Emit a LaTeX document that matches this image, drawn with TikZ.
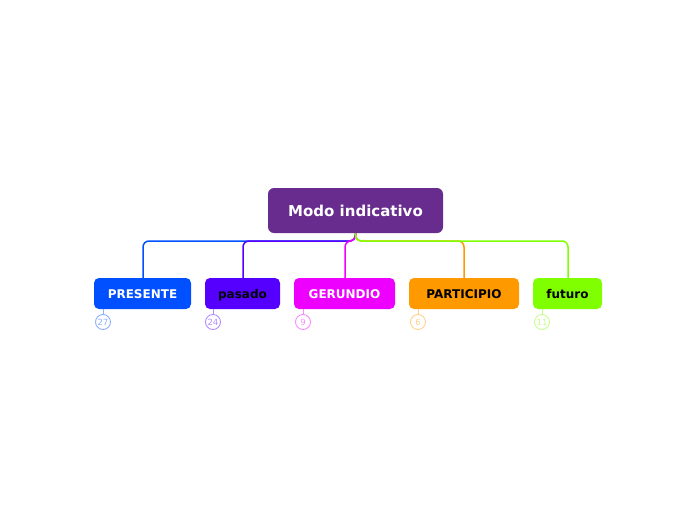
\documentclass[tikz,border=0pt]{standalone}
\usepackage{fontspec}
\setmainfont{DejaVu Sans}
\usetikzlibrary{backgrounds}
\definecolor{cmain}{HTML}{672C8E}
\definecolor{cpres}{HTML}{0050FF}
\definecolor{cpas}{HTML}{5500FF}
\definecolor{cger}{HTML}{EE00FF}
\definecolor{cpart}{HTML}{FF9900}
\definecolor{cfut}{HTML}{80FF00}
\tikzset{
  topic/.style={rounded corners=6pt, inner sep=0pt, text height=11.5pt, text depth=0pt, font=\fontsize{15}{18}\selectfont\bfseries, text=white},
  sub/.style={rounded corners=5pt, inner sep=0pt, minimum height=31pt, text height=10.8pt, text depth=0pt, font=\fontsize{12}{14}\selectfont\bfseries},
  conn/.style={line width=1.5pt, rounded corners=6pt},
  badge/.style={circle, draw, line width=0.9pt, minimum size=15pt, inner sep=0pt, font=\fontsize{8.5}{9}\selectfont},
  stem/.style={line width=0.9pt}
}
\begin{document}
\begin{tikzpicture}[x=1pt,y=-1pt]
\useasboundingbox (0,0) rectangle (697,520);
\node[topic, fill=cmain, minimum width=175pt, minimum height=45pt] (main) at (355.5,210.5) {Modo indicativo};
\node[sub, fill=cpres, text=white, minimum width=97pt] (pres) at (142.5,293.5) {PRESENTE};
\node[sub, fill=cpas, text=black, minimum width=75pt] (pas) at (242.5,293.5) {pasado};
\node[sub, fill=cger, text=white, minimum width=101pt] (ger) at (344.5,293.5) {GERUNDIO};
\node[sub, fill=cpart, text=black, minimum width=110pt] (part) at (464,293.5) {PARTICIPIO};
\node[sub, fill=cfut, text=black, minimum width=69pt] (fut) at (567.5,293.5) {futuro};
\begin{pgfonlayer}{background}
\draw[conn, cpres] (main.south) |- (143,241) -- (pres.north -| 143,0);
\draw[conn, cpas] (main.south) |- (243,241) -- (pas.north -| 243,0);
\draw[conn, cger] (main.south) |- (345,241) -- (ger.north -| 345,0);
\draw[conn, cpart] (main.south) |- (464,241) -- (part.north -| 464,0);
\draw[conn, cfut] (main.south) |- (568,241) -- (fut.north -| 568,0);
\end{pgfonlayer}
% badges
\node[badge, draw=cpres!45, text=cpres!45] (b1) at (103,322) {27};
\node[badge, draw=cpas!45, text=cpas!45] (b2) at (213,322) {24};
\node[badge, draw=cger!45, text=cger!45] (b3) at (303,322) {9};
\node[badge, draw=cpart!45, text=cpart!45] (b4) at (418,322) {6};
\node[badge, draw=cfut!45, text=cfut!45] (b5) at (542,322) {11};
\draw[stem, cpres!45] (b1.north) -- (b1.north |- pres.south);
\draw[stem, cpas!45] (b2.north) -- (b2.north |- pas.south);
\draw[stem, cger!45] (b3.north) -- (b3.north |- ger.south);
\draw[stem, cpart!45] (b4.north) -- (b4.north |- part.south);
\draw[stem, cfut!45] (b5.north) -- (b5.north |- fut.south);
\end{tikzpicture}
\end{document}
